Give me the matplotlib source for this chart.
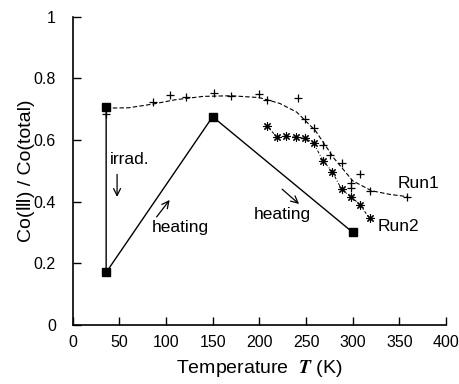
import matplotlib
matplotlib.use('Agg')
import matplotlib.pyplot as plt

plt.rcParams['font.family'] = ['Liberation Sans', 'DejaVu Sans']
plt.rcParams['mathtext.fontset'] = 'stix'

# Run1 data points (+)
run1_T = [36, 86, 104, 122, 152, 170, 200, 208, 241, 249, 258, 268, 276, 288, 298, 298, 308, 318, 358]
run1_y = [0.684, 0.723, 0.746, 0.738, 0.753, 0.743, 0.748, 0.729, 0.737, 0.667, 0.640, 0.584,
          0.551, 0.524, 0.459, 0.443, 0.489, 0.435, 0.416]

# Run1 fitted curve (dashed)
fit1_T = [36, 60, 86, 110, 140, 170, 200, 222, 240, 260, 280, 300, 320, 340, 358]
fit1_y = [0.703, 0.704, 0.716, 0.730, 0.741, 0.743, 0.737, 0.718, 0.690, 0.630, 0.540, 0.467,
          0.435, 0.423, 0.416]

# Run2 data points (*)
run2_T = [208, 219, 229, 239, 249, 258, 268, 278, 288, 298, 308, 318]
run2_y = [0.646, 0.608, 0.613, 0.608, 0.605, 0.590, 0.533, 0.497, 0.440, 0.416, 0.389, 0.345]

# irradiation / heating path (squares)
path_T = [36, 36, 150, 300]
path_y = [0.707, 0.170, 0.675, 0.300]

fig = plt.figure(figsize=(4.59, 3.84), dpi=100)
ax = fig.add_axes([0.158, 0.154, 0.814, 0.803])

ax.plot(fit1_T, fit1_y, color='black', lw=0.8, dashes=(4, 2))
ax.plot(run2_T, run2_y, color='black', lw=0.7, linestyle=(0, (3, 2, 1, 2)))
ax.plot(run1_T, run1_y, linestyle='none', marker='+', ms=6, mew=0.9, color='black')
ax.plot(run2_T, run2_y, linestyle='none', marker=(8, 2, 0), ms=6, mew=0.8, color='black')
ax.plot(path_T, path_y, color='black', lw=1.0, marker='s', ms=5.5)

arrow = dict(arrowstyle='->,head_length=0.5,head_width=0.25', lw=0.9, color='black',
             shrinkA=0, shrinkB=0)
ax.text(40, 0.535, 'irrad.', fontsize=12.5, va='center', ha='left')
ax.annotate('', xy=(47.7, 0.415), xytext=(47.7, 0.488), arrowprops=arrow)
ax.text(84.5, 0.315, 'heating', fontsize=12.5, va='center', ha='left')
ax.annotate('', xy=(104, 0.405), xytext=(90, 0.350), arrowprops=arrow)
ax.text(194, 0.357, 'heating', fontsize=12.5, va='center', ha='left')
ax.annotate('', xy=(242.5, 0.392), xytext=(224.4, 0.440), arrowprops=arrow)
ax.text(348, 0.459, 'Run1', fontsize=12.5, va='center', ha='left')
ax.text(326.5, 0.319, 'Run2', fontsize=12.5, va='center', ha='left')

ax.set_xlim(0, 400)
ax.set_ylim(0, 1)
ax.set_xticks(range(0, 401, 50))
ax.set_yticks([0, 0.2, 0.4, 0.6, 0.8, 1])
ax.set_yticklabels(['0', '0.2', '0.4', '0.6', '0.8', '1'])
ax.tick_params(direction='in', length=6, width=1, labelsize=11.5)
ax.tick_params(axis='y', pad=12)
ax.tick_params(axis='x', pad=7)
ax.spines['top'].set_visible(False)
ax.spines['right'].set_visible(False)
ax.spines['left'].set_linewidth(1.2)
ax.spines['bottom'].set_linewidth(1.2)

ax.set_xlabel('Temperature  $\\boldsymbol{T}$ (K)', fontsize=14, labelpad=6)
ax.set_ylabel('Co(\u2162) / Co(total)', fontsize=14, labelpad=-1)

fig.savefig('out.png', dpi=100)
